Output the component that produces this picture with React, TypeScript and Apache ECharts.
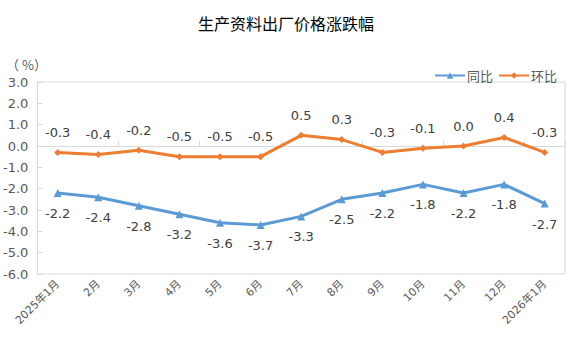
import React, { useEffect, useRef } from "react";
import * as echarts from "echarts";

const categories = ["2025年1月", "2月", "3月", "4月", "5月", "6月", "7月", "8月", "9月", "10月", "11月", "12月", "2026年1月"];
const yoy = [-2.2, -2.4, -2.8, -3.2, -3.6, -3.7, -3.3, -2.5, -2.2, -1.8, -2.2, -1.8, -2.7];
const mom = [-0.3, -0.4, -0.2, -0.5, -0.5, -0.5, 0.5, 0.3, -0.3, -0.1, 0.0, 0.4, -0.3];
const seriesNames = ["同比", "环比"];

export default function App() {
  const ref = useRef<HTMLDivElement>(null);
  useEffect(() => {
    if (!ref.current) return;
    const chart = echarts.init(ref.current, null, { renderer: "svg" });
    const font = "'DejaVu Sans', 'Noto Sans CJK SC', sans-serif";
    const cjk = "'Noto Sans CJK SC', sans-serif";
    chart.setOption({
      animation: false,
      textStyle: { fontFamily: font },
      title: {
        text: "生产资料出厂价格涨跌幅",
        left: "center",
        top: 10,
        textStyle: { fontSize: 16, fontWeight: "normal", color: "#000", fontFamily: cjk },
      },
      graphic: [
        { type: "text", left: 6, top: 58, style: { text: "（ %）", fontSize: 13, fill: "#595959", fontFamily: cjk } },
      ],
      legend: {
        right: 10,
        top: 64,
        itemWidth: 30,
        itemHeight: 8,
        itemGap: 5,
        textStyle: { fontSize: 13, color: "#595959", fontFamily: cjk, padding: [0, 0, 0, -3] },
        data: seriesNames,
      },
      grid: { left: 33, right: 7, top: 82, bottom: 79, show: true, borderColor: "#d9d9d9", borderWidth: 1 },
      xAxis: [
        {
          type: "category",
          data: categories,
          boundaryGap: true,
          axisLine: { onZero: true, lineStyle: { color: "#d9d9d9" } },
          axisTick: { show: true, inside: true, length: 5, lineStyle: { color: "#d9d9d9" } },
          axisLabel: { show: false },
        },
        {
          type: "category",
          data: categories,
          position: "bottom",
          boundaryGap: true,
          axisLine: { show: false },
          axisTick: { show: false },
          axisLabel: { rotate: 45, fontSize: 11, color: "#595959", margin: 8, interval: 0, fontFamily: font },
        },
      ],
      yAxis: {
        type: "value",
        min: -6,
        max: 3,
        interval: 1,
        axisLine: { show: true, lineStyle: { color: "#d9d9d9" } },
        axisTick: { show: true, inside: true, length: 5, lineStyle: { color: "#d9d9d9" } },
        splitLine: { show: false },
        axisLabel: {
          fontSize: 13,
          color: "#595959",
          margin: 9,
          formatter: (v: number) => v.toFixed(1),
          fontFamily: font,
        },
      },
      series: [
        {
          name: seriesNames[0],
          type: "line",
          data: yoy,
          xAxisIndex: 0,
          symbol: "triangle",
          symbolSize: 8,
          itemStyle: { color: "#5B9BD5" },
          lineStyle: { width: 3, color: "#5B9BD5" },
          label: {
            show: true,
            position: "bottom",
            distance: 10,
            fontSize: 13,
            color: "#404040",
            fontFamily: font,
            formatter: (p: any) => Number(p.value).toFixed(1),
          },
        },
        {
          name: seriesNames[1],
          type: "line",
          data: mom,
          xAxisIndex: 0,
          symbol: "diamond",
          symbolSize: 7,
          itemStyle: { color: "#ED7D31" },
          lineStyle: { width: 3, color: "#ED7D31" },
          label: {
            show: true,
            position: "top",
            distance: 10,
            fontSize: 13,
            color: "#404040",
            fontFamily: font,
            formatter: (p: any) => Number(p.value).toFixed(1),
          },
        },
      ],
    });
    return () => chart.dispose();
  }, []);
  return <div ref={ref} style={{ width: 572, height: 353, position: "absolute", left: 0, top: 0 }} />;
}
